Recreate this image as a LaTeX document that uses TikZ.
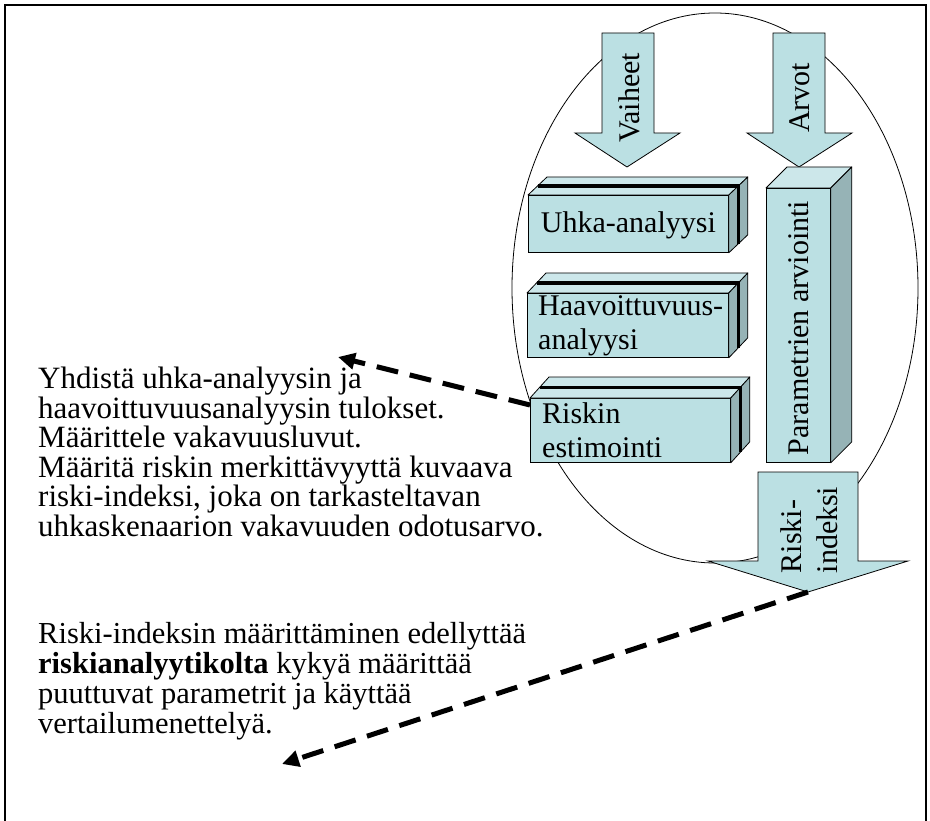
\documentclass[tikz,border=0pt]{standalone}
\usepackage{fontspec}
\setmainfont{Liberation Serif}
\usetikzlibrary{arrows.meta,calc}
\definecolor{boxfill}{HTML}{BBE0E3}
\definecolor{boxtop}{HTML}{CCE7EA}
\definecolor{boxside}{HTML}{96B3B6}

% top and right faces of a slab whose front face is node #1, depth (#2,#3)
\newcommand{\slabfaces}[3]{%
  \filldraw[topface] (#1.north west) -- ++(#2,#3) -- ($(#1.north east)+(#2,#3)$) -- (#1.north east) -- cycle;
  \filldraw[sideface] (#1.north east) -- ++(#2,#3) -- ($(#1.south east)+(#2,#3)$) -- (#1.south east) -- cycle;
}
% thick ridge half way into the depth of slab #1
\newcommand{\slabridge}[3]{%
  \draw[ridge] ($(#1.north west)+(#2,#3)$) -- ($(#1.north east)+(#2,#3)$) -- ($(#1.south east)+(#2,#3)$);
}

\begin{document}
\begin{tikzpicture}[x=1pt,y=-1pt,
  face/.style={draw=black, line width=0.8pt, fill=boxfill, inner sep=0pt, anchor=north west},
  topface/.style={draw=black, line width=0.8pt, fill=boxtop, line join=round},
  sideface/.style={draw=black, line width=0.8pt, fill=boxside, line join=round},
  ridge/.style={line width=3.5pt, black},
  blockarrow/.style={draw=black, line width=0.8pt, fill=boxfill, line join=miter},
  lbl/.style={font=\fontsize{30}{34}\selectfont, inner sep=0pt, align=left},
  body/.style={align=left, inner sep=0pt, anchor=north west},
  dasharrow/.style={line width=5pt, dash pattern=on 22pt off 12pt,
    -{Triangle[length=17pt,width=16pt]}}
]
\useasboundingbox (0,0) rectangle (930,821);
\clip (0,0) rectangle (930,821);

% frame
\draw[line width=2.5pt] (5,840) -- (5,5) -- (926,5) -- (926,840);

% enclosing ellipse
\draw[line width=0.8pt] (715,288) ellipse [x radius=203, y radius=275];

% input arrows
\filldraw[blockarrow] (602,33) -- (654,33) -- (654,133) -- (680,133) -- (627,167)
  -- (575,133) -- (602,133) -- cycle;
\node[lbl, rotate=90] (vaiheet) at (629,98) {Vaiheet};

\filldraw[blockarrow] (773,33) -- (825,33) -- (825,133) -- (852,133) -- (799,167)
  -- (747,133) -- (773,133) -- cycle;
\node[lbl, rotate=90] (arvot) at (800,98) {Arvot};

% phase slabs
\node[face, minimum width=200pt, minimum height=57pt] (uhka) at (528,195) {};
\slabfaces{uhka}{19}{-18}
\slabridge{uhka}{9.5}{-9}
\node[lbl] (uhkatxt) at ($(uhka.center)+(0,1)$) {Uhka-analyysi};

\node[face, minimum width=201pt, minimum height=64pt] (haav) at (527,293) {};
\slabfaces{haav}{19}{-20}
\slabridge{haav}{9.5}{-10}
\node[lbl, anchor=west] (haavtxt) at ($(haav.west)+(11,0)$) {Haavoittuvuus-\\analyysi};

\node[face, minimum width=200pt, minimum height=64pt] (risk) at (530,398) {};
\slabfaces{risk}{19}{-21}
\slabridge{risk}{9.5}{-10.5}
\node[lbl, anchor=west] (risktxt) at ($(risk.west)+(12,0)$) {Riskin\\estimointi};

% parameter column
\node[face, minimum width=64pt, minimum height=274pt] (param) at (766,188) {};
\slabfaces{param}{21}{-21}
\node[lbl, rotate=90] (paramtxt) at (799,328) {Parametrien arviointi};

% output arrow
\filldraw[blockarrow] (758,472) -- (858,472) -- (858,561) -- (908,561) -- (808,592)
  -- (708,561) -- (758,561) -- cycle;
\coordinate (outtip) at (808,592);
\node[lbl, rotate=90, font=\fontsize{30}{36}\selectfont] (outtxt) at (809,530) {Riski-\\indeksi};

% notes
\node[body, font=\fontsize{31}{29.5}\selectfont] (note1) at (38,367) {Yhdistä uhka-analyysin ja\\
haavoittuvuusanalyysin tulokset.\\
Määrittele vakavuusluvut.\\
Määritä riskin merkittävyyttä kuvaava\\
riski-indeksi, joka on tarkasteltavan\\
uhkaskenaarion vakavuuden odotusarvo.};

\node[body, font=\fontsize{30.5}{30}\selectfont] (note2) at (38,622) {Riski-indeksin määrittäminen edellyttää\\
\textbf{riskianalyytikolta} kykyä määrittää\\
puuttuvat parametrit ja käyttää\\
vertailumenettelyä.};

\coordinate (end1) at (338,357);
\coordinate (end2) at (282,764);
\draw[dasharrow] ($(risk.north west)+(0,7)$) -- (end1);
\draw[dasharrow] (outtip) -- (end2);
\end{tikzpicture}
\end{document}
